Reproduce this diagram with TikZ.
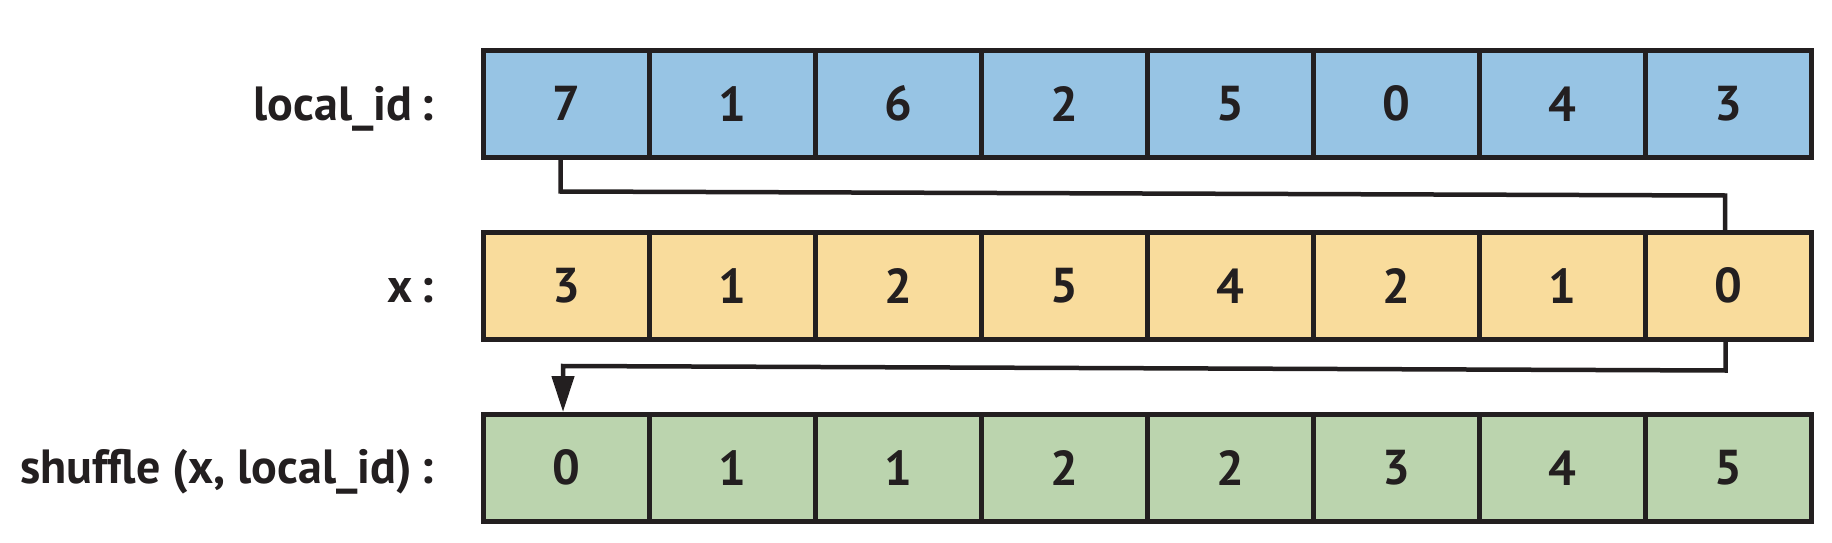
\documentclass[tikz,border=0pt]{standalone}
\usepackage{fontspec}
\setmainfont{PT Sans}
\usetikzlibrary{arrows.meta}
\definecolor{cblue}{HTML}{97C4E4}
\definecolor{cyellow}{HTML}{F9DC9C}
\definecolor{cgreen}{HTML}{BBD4AE}
\definecolor{cline}{HTML}{231F20}
\tikzset{
  cell/.style={draw=cline, line width=5pt, minimum width=166pt, minimum height=106.5pt,
    inner sep=0pt, font=\fontsize{49}{52}\selectfont\bfseries, text=cline},
  lbl/.style={anchor=base east, inner sep=0pt, font=\fontsize{48}{52}\selectfont\bfseries, text=cline},
  conn/.style={draw=cline, line width=4.5pt},
}
\newcommand{\colsep}{\hspace{0.18em}:}
\begin{document}
\begin{tikzpicture}[x=1pt, y=-1pt]
\useasboundingbox (0,0) rectangle (1832,543);
\fill[white] (0,0) rectangle (1832,543);
\foreach \v [count=\i from 0] in {7,1,6,2,5,0,4,3}
  \node[cell, fill=cblue] (t\i) at (566+166*\i, 103.75) {\v};
\foreach \v [count=\i from 0] in {3,1,2,5,4,2,1,0}
  \node[cell, fill=cyellow] (m\i) at (566+166*\i, 285.75) {\v};
\foreach \v [count=\i from 0] in {0,1,1,2,2,3,4,5}
  \node[cell, fill=cgreen] (b\i) at (566+166*\i, 467.75) {\v};
\node[lbl] (lt) at (434, 120.5) {local\_id\colsep};
\node[lbl] (lm) at (434, 302.5) {x\colsep};
\node[lbl] (lb) at (434, 483) {shuffle (x, local\_id)\colsep};
\coordinate (c1) at (560.5,191.5);
\coordinate (c2) at (1725,195.5);
\coordinate (c3) at (1725.5,370.5);
\coordinate (c4) at (563,366);
\draw[conn] (t0.south -| c1) -- (c1) -- (c2) -- (c2 |- m7.north);
\draw[conn, -{Triangle[width=22pt,length=36pt]}] (m7.south -| c3) -- (c3) -- (c4) -- (c4 |- b0.north);
\end{tikzpicture}
\end{document}
